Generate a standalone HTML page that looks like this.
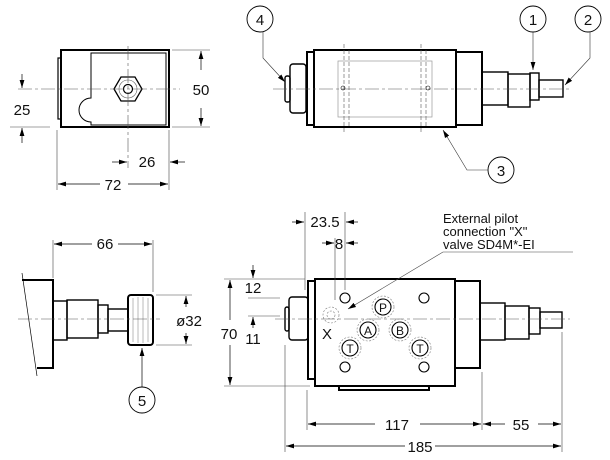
<!DOCTYPE html>
<html><head><style>body{margin:0;background:#fff}svg{display:block}</style></head><body>
<svg width="610" height="460" viewBox="0 0 610 460" xmlns="http://www.w3.org/2000/svg" font-family="Liberation Sans, sans-serif">
<defs>
<marker id="a" viewBox="0 0 10 6" refX="10" refY="3" markerWidth="8" markerHeight="5" orient="auto-start-reverse" markerUnits="userSpaceOnUse"><path d="M0,0L10,3L0,6z" fill="#000"/></marker>
</defs>
<g fill="none" stroke="#000">
<rect x="61" y="50" width="108" height="77" stroke-width="2"/>
<rect x="58" y="58" width="3" height="61" stroke-width="1.2"/>
<path d="M91,53V98a8,8 0 0 0 0,24V125H166V53Z" stroke-width="1"/>
<polygon points="121,77 135,77 142,89 135,101 121,101 114,89" stroke-width="1.3"/>
<circle cx="128" cy="89" r="9" stroke-width=".6" stroke="#666"/>
<circle cx="128" cy="89" r="4.5" stroke-width="1.2"/>
<g stroke="#555" stroke-width=".6" stroke-dasharray="14,3,3,3">
<line x1="18" y1="89" x2="180" y2="89"/><line x1="128" y1="46" x2="128" y2="168"/>
</g>
<g stroke="#444" stroke-width=".6">
<line x1="172" y1="50" x2="210" y2="50"/><line x1="172" y1="127" x2="210" y2="127"/>
<line x1="10" y1="127" x2="50" y2="127"/>
<line x1="57" y1="130" x2="57" y2="190"/><line x1="169" y1="130" x2="169" y2="190"/>
</g>
<g stroke-width=".7" marker-end="url(#a)">
<line x1="201" y1="70" x2="201" y2="51"/><line x1="201" y1="108" x2="201" y2="126"/>
<line x1="22" y1="74" x2="22" y2="88"/><line x1="22" y1="143" x2="22" y2="128"/>
<line x1="112" y1="162" x2="127" y2="162"/><line x1="185" y1="162" x2="170" y2="162"/>
<line x1="100" y1="184" x2="58" y2="184"/><line x1="128" y1="184" x2="168" y2="184"/>
</g>
<g stroke-width="2">
<rect x="314" y="50" width="142" height="77"/>
<rect x="307" y="52" width="7" height="73"/>
<rect x="456" y="52" width="26" height="73"/>
</g>
<g stroke-width="1.4">
<rect x="482" y="72" width="26" height="33"/>
<rect x="508" y="74" width="22" height="33"/>
<rect x="530" y="73" width="9" height="27"/>
<rect x="539" y="80" width="24" height="17"/>
<rect x="290" y="64" width="16" height="49" rx="3"/>
<rect x="285" y="76" width="5" height="26" rx="2"/>
</g>
<rect x="338" y="61" width="94" height="56" stroke="#999" stroke-width=".7"/>
<g stroke="#555" stroke-width=".6" stroke-dasharray="4,2">
<line x1="344" y1="44" x2="344" y2="132"/><line x1="349" y1="50" x2="349" y2="127"/>
<line x1="421" y1="44" x2="421" y2="132"/><line x1="426" y1="50" x2="426" y2="127"/>
</g>
<line x1="273" y1="89" x2="572" y2="89" stroke="#555" stroke-width=".6" stroke-dasharray="14,3,3,3"/>
<circle cx="343" cy="88" r="2" stroke-width=".6"/><circle cx="428" cy="88" r="2" stroke-width=".6"/>
<g stroke-width=".9">
<circle cx="260" cy="19" r="13"/><circle cx="533" cy="19" r="13"/><circle cx="588" cy="19" r="13"/><circle cx="501" cy="170" r="13"/>
</g>
<g stroke-width=".6" stroke="#333">
<path d="M263,32 263,58 L285,82" marker-end="url(#a)"/>
<line x1="533" y1="32" x2="533" y2="70" marker-end="url(#a)"/>
<path d="M590,32 L590,58 L565,85" marker-end="url(#a)"/>
<path d="M488,170 L467,170 L443,130" marker-end="url(#a)"/>
</g>
<path d="M22,280H53V368H37" stroke-width="2"/>
<line x1="22" y1="273" x2="37" y2="376" stroke-width=".7"/>
<g stroke-width="1.4">
<rect x="53" y="301" width="14" height="39"/>
<rect x="67" y="300" width="31" height="38"/>
<rect x="98" y="305" width="10" height="28"/>
<rect x="108" y="309" width="20" height="22"/>
<rect x="128" y="295" width="25" height="50" rx="3" stroke-width="2"/>
</g>
<g stroke="#777" stroke-width=".5"><line x1="133" y1="298" x2="133" y2="342"/><line x1="138" y1="297" x2="138" y2="343"/><line x1="143" y1="297" x2="143" y2="343"/><line x1="148" y1="298" x2="148" y2="342"/></g>
<line x1="18" y1="319" x2="160" y2="319" stroke="#555" stroke-width=".6" stroke-dasharray="14,3,3,3"/>
<g stroke="#444" stroke-width=".6">
<line x1="53" y1="240" x2="53" y2="278"/><line x1="153" y1="240" x2="153" y2="292"/>
<line x1="156" y1="295" x2="192" y2="295"/><line x1="156" y1="345" x2="192" y2="345"/>
</g>
<g stroke-width=".7" marker-end="url(#a)">
<line x1="92" y1="244" x2="54" y2="244"/><line x1="118" y1="244" x2="152" y2="244"/>
<line x1="186" y1="307" x2="186" y2="296"/><line x1="186" y1="333" x2="186" y2="344"/>
<line x1="142" y1="387" x2="142" y2="348"/>
</g>
<circle cx="142" cy="400" r="13" stroke-width=".9"/>
<g stroke-width="2">
<rect x="315" y="279" width="140" height="107"/>
<rect x="308" y="281" width="7" height="98"/>
<rect x="455" y="281" width="25" height="87"/>
<rect x="339" y="386" width="90" height="4"/>
</g>
<g stroke-width="1.4">
<rect x="480" y="303" width="25" height="37"/>
<rect x="505" y="306" width="24" height="33"/>
<rect x="529" y="308" width="11" height="26"/>
<rect x="540" y="312" width="22" height="16"/>
<rect x="289" y="297" width="19" height="43" rx="3"/>
<rect x="285" y="307" width="4" height="24" rx="2"/>
</g>
<line x1="275" y1="319" x2="570" y2="319" stroke="#555" stroke-width=".6" stroke-dasharray="14,3,3,3"/>
<g stroke-width="1.1">
<circle cx="345" cy="298" r="5"/><circle cx="424" cy="298" r="5"/><circle cx="345" cy="367" r="5"/><circle cx="424" cy="367" r="5"/>
<circle cx="383" cy="307" r="8"/><circle cx="368" cy="330" r="8"/><circle cx="400" cy="330" r="8"/><circle cx="350" cy="348" r="8"/><circle cx="420" cy="348" r="8"/>
</g>
<g stroke="#777" stroke-width=".6" stroke-dasharray="2,1.5">
<circle cx="383" cy="307" r="11"/><circle cx="368" cy="330" r="11"/><circle cx="400" cy="330" r="11"/><circle cx="350" cy="348" r="11"/><circle cx="420" cy="348" r="11"/>
<circle cx="331" cy="315" r="8"/><circle cx="331" cy="315" r="4"/>
</g>
<g stroke="#444" stroke-width=".6">
<line x1="305" y1="212" x2="305" y2="290"/><line x1="345" y1="212" x2="345" y2="290"/><line x1="335" y1="238" x2="335" y2="300"/>
<line x1="224" y1="279" x2="305" y2="279"/><line x1="224" y1="386" x2="310" y2="386"/>
<line x1="248" y1="298" x2="280" y2="298"/><line x1="248" y1="316" x2="280" y2="316"/>
<line x1="307" y1="390" x2="307" y2="430"/><line x1="285" y1="345" x2="285" y2="452"/>
<line x1="482" y1="372" x2="482" y2="430"/><line x1="562" y1="332" x2="562" y2="452"/>
<path d="M573,252H443L348,309" marker-end="url(#a)"/>
</g>
<g stroke-width=".7" marker-end="url(#a)">
<line x1="292" y1="222" x2="304" y2="222"/><line x1="358" y1="222" x2="346" y2="222"/>
<line x1="322" y1="243" x2="334" y2="243"/><line x1="358" y1="243" x2="346" y2="243"/>
<line x1="230" y1="320" x2="230" y2="280"/><line x1="230" y1="345" x2="230" y2="385"/>
<line x1="253" y1="265" x2="253" y2="278"/><line x1="253" y1="328" x2="253" y2="317"/>
<line x1="375" y1="424" x2="308" y2="424"/><line x1="420" y1="424" x2="481" y2="424"/>
<line x1="505" y1="424" x2="483" y2="424"/><line x1="538" y1="424" x2="561" y2="424"/>
<line x1="405" y1="446" x2="286" y2="446"/><line x1="435" y1="446" x2="561" y2="446"/>
</g>
</g>
<g font-size="15" fill="#111" text-anchor="middle">
<text x="201" y="95">50</text><text x="22" y="115">25</text><text x="147" y="167">26</text><text x="113" y="190">72</text>
<text x="260" y="25">4</text><text x="533" y="25">1</text><text x="588" y="25">2</text><text x="501" y="176">3</text>
<text x="105" y="249">66</text><text x="189" y="326">ø32</text><text x="142" y="406">5</text>
<text x="325" y="227">23.5</text><text x="339" y="249">8</text><text x="229" y="339">70</text>
<text x="253" y="293">12</text><text x="253" y="344">11</text>
<text x="397" y="430">117</text><text x="521" y="430">55</text><text x="420" y="452">185</text>
<text x="327" y="339">X</text>
</g>
<g font-size="12" fill="#111" text-anchor="middle">
<text x="383" y="312">P</text><text x="368" y="335">A</text><text x="400" y="335">B</text><text x="350" y="353">T</text><text x="420" y="353">T</text>
</g>
<g font-size="13" fill="#111">
<text x="443" y="223">External pilot</text><text x="443" y="236">connection "X"</text><text x="443" y="249">valve SD4M*-EI</text>
</g>
</svg>
</body></html>
